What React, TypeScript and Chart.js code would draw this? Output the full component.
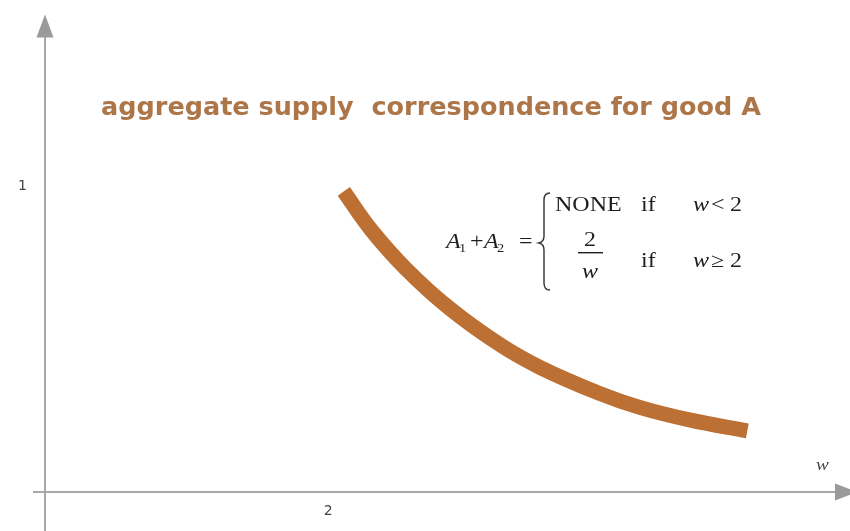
import React, { useEffect, useRef } from "react";
import { Chart, registerables } from "chart.js";

Chart.register(...registerables);

// Aggregate supply of good A as a function of w
const wealth = [2.11, 2.3, 2.55, 2.86, 3.22, 3.5, 3.92, 4.2, 4.56, 4.96];
const supply = [0.984, 0.86, 0.73, 0.6, 0.48, 0.407, 0.322, 0.277, 0.235, 0.2];

const xTicks = [2];
const yTicks = [1];

const titleText = "aggregate supply  correspondence for good A";
const xAxisName = "w";

const CURVE_COLOR = "#bd7033";
const TITLE_COLOR = "#ad7649";
const AXIS_COLOR = "#a8a8a8";
const TEXT_COLOR = "#1e1e1e";
const STRETCH = 1.2;
const SERIF = "'Liberation Serif', 'Times New Roman', serif";

// draws text horizontally stretched, anchored at x
function run(ctx: CanvasRenderingContext2D, text: string, x: number, y: number, font: string, align: CanvasTextAlign = "left") {
  ctx.save();
  ctx.font = font;
  ctx.textAlign = align;
  ctx.textBaseline = "alphabetic";
  ctx.translate(x, y);
  ctx.scale(STRETCH, 1);
  ctx.fillText(text, 0, 0);
  ctx.restore();
}

const axesPlugin = {
  id: "arrowAxes",
  beforeDatasetsDraw(chart: any) {
    const { ctx, chartArea, scales } = chart;
    const x0 = scales.x.getPixelForValue(0);
    const y0 = scales.y.getPixelForValue(0);
    ctx.save();
    ctx.strokeStyle = AXIS_COLOR;
    ctx.fillStyle = "#9a9a9a";
    ctx.lineWidth = 2;
    // vertical axis
    ctx.beginPath();
    ctx.moveTo(x0, chart.height);
    ctx.lineTo(x0, chartArea.top + 16);
    ctx.stroke();
    ctx.beginPath();
    ctx.moveTo(x0, chartArea.top - 4);
    ctx.lineTo(x0 - 8.5, chartArea.top + 19);
    ctx.lineTo(x0 + 8.5, chartArea.top + 19);
    ctx.closePath();
    ctx.fill();
    // horizontal axis
    ctx.beginPath();
    ctx.moveTo(x0 - 12, y0);
    ctx.lineTo(chartArea.right - 8, y0);
    ctx.stroke();
    ctx.beginPath();
    ctx.moveTo(chartArea.right + 12, y0);
    ctx.lineTo(chartArea.right - 10, y0 - 8.5);
    ctx.lineTo(chartArea.right - 10, y0 + 8.5);
    ctx.closePath();
    ctx.fill();
    ctx.restore();
  },
  afterDraw(chart: any) {
    const { ctx } = chart;
    ctx.save();

    // title
    ctx.fillStyle = TITLE_COLOR;
    ctx.font = "bold 25.5px 'DejaVu Sans', sans-serif";
    ctx.textAlign = "center";
    ctx.textBaseline = "alphabetic";
    ctx.fillText(titleText, 431, 115);

    // axis name
    ctx.fillStyle = "#444444";
    run(ctx, xAxisName, 816, 470, "italic 16px " + SERIF);

    // piecewise formula
    ctx.fillStyle = TEXT_COLOR;
    const it = "italic 20px " + SERIF;
    const up = "20px " + SERIF;
    const sub = "12px " + SERIF;
    run(ctx, "A", 446, 248, it);
    run(ctx, "1", 459, 252, sub);
    run(ctx, "+", 470, 248, up);
    run(ctx, "A", 484, 248, it);
    run(ctx, "2", 497, 252, sub);
    run(ctx, "=", 519, 248, up);

    // brace
    ctx.strokeStyle = "#333333";
    ctx.lineWidth = 1.4;
    ctx.beginPath();
    ctx.moveTo(550, 193);
    ctx.quadraticCurveTo(544, 193, 544, 200);
    ctx.lineTo(544, 236);
    ctx.quadraticCurveTo(544, 242, 539, 243);
    ctx.quadraticCurveTo(544, 244, 544, 250);
    ctx.lineTo(544, 283);
    ctx.quadraticCurveTo(544, 290, 550, 290);
    ctx.stroke();

    // first case
    run(ctx, "NONE", 555, 211, up);
    run(ctx, "if", 641, 211, up);
    run(ctx, "w", 693, 211, it);
    run(ctx, "<", 711, 211, up);
    run(ctx, "2", 730, 211, up);

    // second case
    run(ctx, "2", 590, 246, up, "center");
    ctx.fillRect(578, 252, 25, 1.4);
    run(ctx, "w", 590, 278, it, "center");
    run(ctx, "if", 641, 267, up);
    run(ctx, "w", 693, 267, it);
    run(ctx, "\u2265", 711, 267, up);
    run(ctx, "2", 730, 267, up);

    ctx.restore();
  },
};

export default function App() {
  const ref = useRef<HTMLCanvasElement | null>(null);

  useEffect(() => {
    if (!ref.current) return;
    const chart = new Chart(ref.current, {
      type: "line",
      data: {
        datasets: [
          {
            data: wealth.map((w, i) => ({ x: w, y: supply[i] })),
            borderColor: CURVE_COLOR,
            borderWidth: 15,
            borderCapStyle: "butt",
            tension: 0.4,
            pointRadius: 0,
            fill: false,
          },
        ],
      },
      options: {
        animation: false,
        responsive: true,
        maintainAspectRatio: false,
        layout: { padding: { top: 6, right: 5, left: 0, bottom: 0 } },
        plugins: { legend: { display: false }, tooltip: { enabled: false }, title: { display: false } },
        scales: {
          x: {
            type: "linear",
            min: 0,
            max: 5.65,
            grid: { display: false },
            border: { display: false },
            afterBuildTicks: (s: any) => {
              s.ticks = xTicks.map((v) => ({ value: v }));
            },
            afterFit: (s: any) => {
              s.height = 39;
            },
            ticks: {
              padding: 3,
              color: "#444444",
              font: { family: "'DejaVu Sans', sans-serif", size: 14 },
              callback: (v: any) => String(v),
            },
          },
          y: {
            type: "linear",
            min: 0,
            max: 1.55,
            grid: { display: false },
            border: { display: false },
            afterBuildTicks: (s: any) => {
              s.ticks = yTicks.map((v) => ({ value: v }));
            },
            afterFit: (s: any) => {
              s.width = 45;
            },
            ticks: {
              padding: 10,
              color: "#444444",
              font: { family: "'DejaVu Sans', sans-serif", size: 14 },
              callback: (v: any) => String(v),
            },
          },
        },
      },
      plugins: [axesPlugin],
    });
    return () => chart.destroy();
  }, []);

  return (
    <div style={{ position: "fixed", left: 0, top: 0, width: 850, height: 531, background: "#ffffff" }}>
      <canvas ref={ref} />
    </div>
  );
}
